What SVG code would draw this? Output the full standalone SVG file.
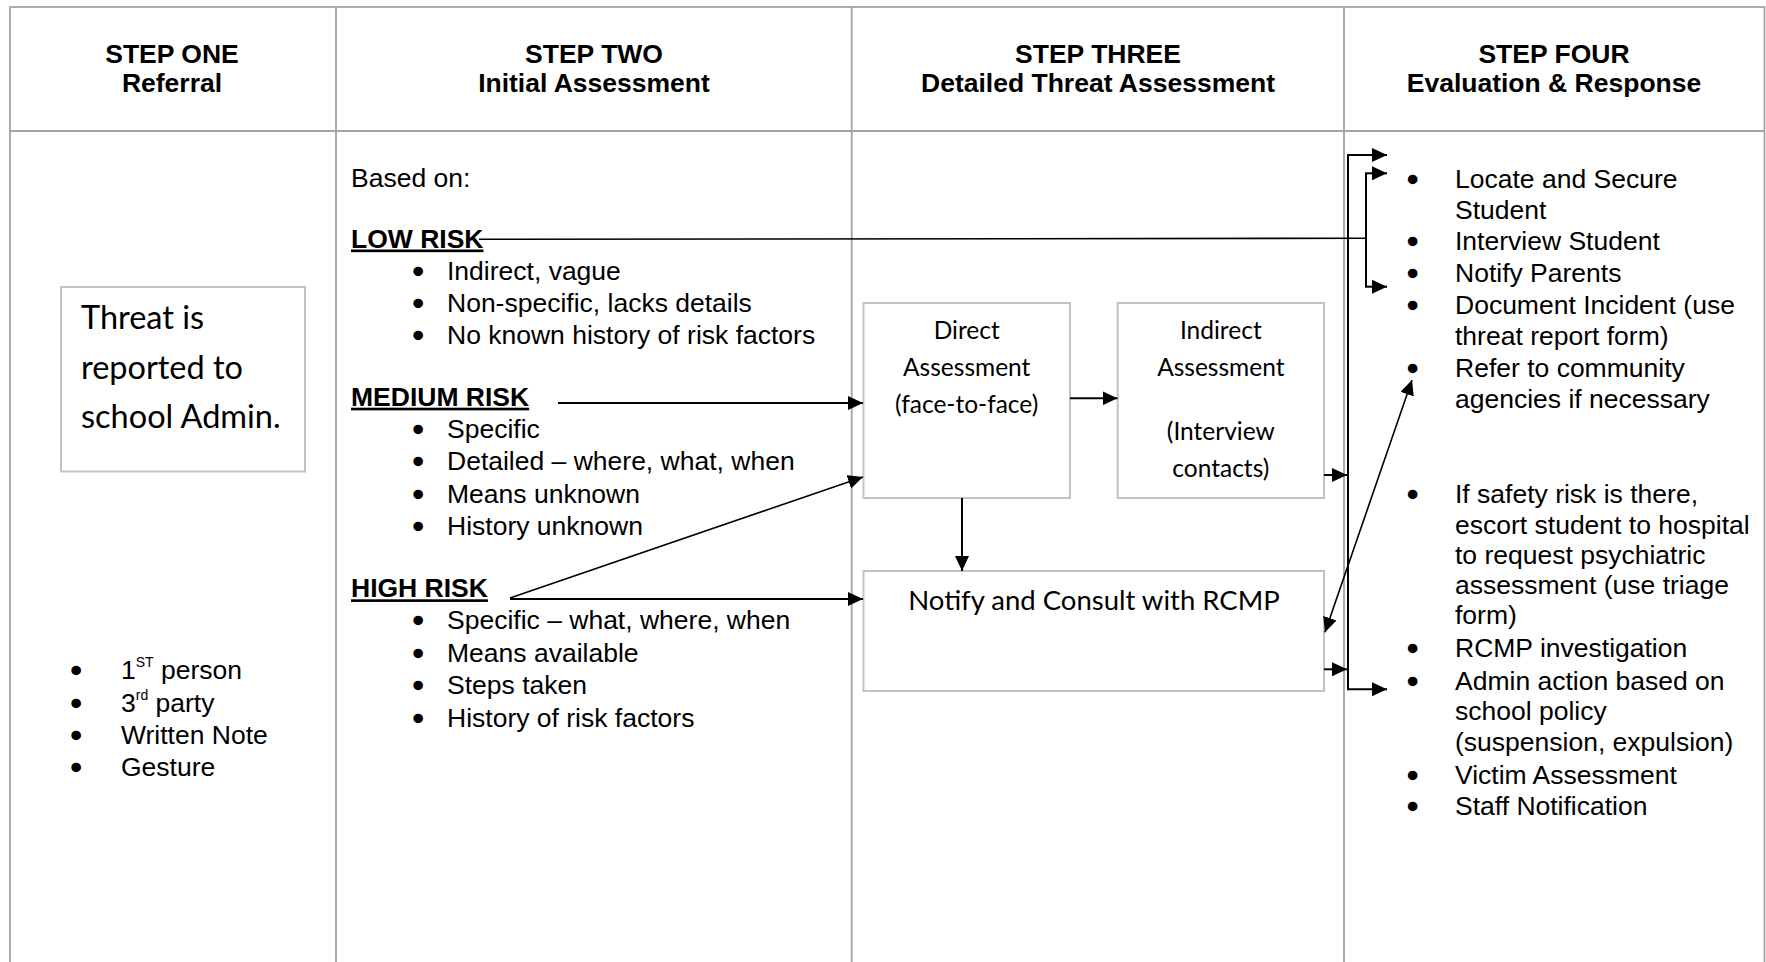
<svg xmlns="http://www.w3.org/2000/svg" width="1766" height="962" viewBox="0 0 1766 962">
<style>
  .grid { stroke: #a3a3a3; stroke-width: 1.8; fill: none; }
  .hdr { font-family: "Liberation Sans", Arial, sans-serif; font-weight: bold; font-size: 26.5px; fill: #000; text-anchor: middle; }
  .t { font-family: "Liberation Sans", Arial, sans-serif; font-size: 26.5px; fill: #000; }
  .b { stroke: #000; stroke-width: 2.4; stroke-linejoin: round; }
  .risk { font-family: "Liberation Sans", Arial, sans-serif; font-size: 26.5px; font-weight: bold; fill: #000; text-decoration: underline; }
  .box { fill: #fff; stroke: #c3c3c3; stroke-width: 2; }
  .bx { font-family: Lato, "Noto Sans", sans-serif; fill: #000; }
  .c { text-anchor: middle; }
  .conn { stroke: #000; stroke-width: 2; fill: none; }
  .thin { stroke: #000; stroke-width: 1.6; fill: none; }
</style>
<defs>
  <marker id="ah" markerUnits="userSpaceOnUse" markerWidth="16" markerHeight="14" refX="15" refY="7" orient="auto-start-reverse">
    <path d="M0,0 L15,7 L0,14 Z" fill="#000"/>
  </marker>
</defs>

<!-- table grid -->
<g id="table">
  <rect class="grid" x="10" y="7" width="1754.5" height="970"/>
  <line class="grid" x1="10" y1="131" x2="1764.5" y2="131"/>
  <line class="grid" x1="336" y1="7" x2="336" y2="962"/>
  <line class="grid" x1="851.7" y1="7" x2="851.7" y2="962"/>
  <line class="grid" x1="1344" y1="7" x2="1344" y2="962"/>
</g>

<!-- headers -->
<g id="header-step1">
  <text class="hdr" x="172" y="62.5">STEP ONE</text>
  <text class="hdr" x="172" y="91.5">Referral</text>
</g>
<g id="header-step2">
  <text class="hdr" x="594" y="62.5">STEP TWO</text>
  <text class="hdr" x="594" y="91.5">Initial Assessment</text>
</g>
<g id="header-step3">
  <text class="hdr" x="1098" y="62.5">STEP THREE</text>
  <text class="hdr" x="1098" y="91.5">Detailed Threat Assessment</text>
</g>
<g id="header-step4">
  <text class="hdr" x="1554" y="62.5">STEP FOUR</text>
  <text class="hdr" x="1554" y="91.5">Evaluation &amp; Response</text>
</g>

<!-- step one -->
<g id="threat-reported">
  <rect class="box" x="61" y="287" width="244" height="184.5"/>
  <text class="bx" x="81" y="329" font-size="32.5">Threat is</text>
  <text class="bx" x="81" y="378.5" font-size="32.5">reported to</text>
  <text class="bx" x="81" y="427.5" font-size="32.5">school Admin.</text>
</g>
<g id="referral-sources">
  <text class="t" y="679.3"><tspan class="b" x="71.4">•</tspan><tspan x="121">1</tspan><tspan font-size="14" dy="-12">ST</tspan><tspan dy="12"> person</tspan></text>
  <text class="t" y="711.5"><tspan class="b" x="71.4">•</tspan><tspan x="121">3</tspan><tspan font-size="14" dy="-12">rd</tspan><tspan dy="12"> party</tspan></text>
  <text class="t" y="743.5"><tspan class="b" x="71.4">•</tspan><tspan x="121">Written Note</tspan></text>
  <text class="t" y="775.5"><tspan class="b" x="71.4">•</tspan><tspan x="121">Gesture</tspan></text>
</g>

<!-- step two -->
<g id="based-on">
  <text class="t" x="351" y="187">Based on:</text>
</g>
<g id="low-risk">
  <text class="risk" x="351" y="247.5">LOW RISK</text>
  <text class="t" y="279.5"><tspan class="b" x="413.4">•</tspan><tspan x="447">Indirect, vague</tspan></text>
  <text class="t" y="312"><tspan class="b" x="413.4">•</tspan><tspan x="447">Non-specific, lacks details</tspan></text>
  <text class="t" y="344.3"><tspan class="b" x="413.4">•</tspan><tspan x="447">No known history of risk factors</tspan></text>
</g>
<g id="medium-risk">
  <text class="risk" x="351" y="405.7">MEDIUM RISK</text>
  <text class="t" y="437.7"><tspan class="b" x="413.4">•</tspan><tspan x="447">Specific</tspan></text>
  <text class="t" y="470"><tspan class="b" x="413.4">•</tspan><tspan x="447">Detailed – where, what, when</tspan></text>
  <text class="t" y="502.5"><tspan class="b" x="413.4">•</tspan><tspan x="447">Means unknown</tspan></text>
  <text class="t" y="535"><tspan class="b" x="413.4">•</tspan><tspan x="447">History unknown</tspan></text>
</g>
<g id="high-risk">
  <text class="risk" x="351" y="597.3">HIGH RISK</text>
  <text class="t" y="629.3"><tspan class="b" x="413.4">•</tspan><tspan x="447">Specific – what, where, when</tspan></text>
  <text class="t" y="661.7"><tspan class="b" x="413.4">•</tspan><tspan x="447">Means available</tspan></text>
  <text class="t" y="694"><tspan class="b" x="413.4">•</tspan><tspan x="447">Steps taken</tspan></text>
  <text class="t" y="726.5"><tspan class="b" x="413.4">•</tspan><tspan x="447">History of risk factors</tspan></text>
</g>

<!-- step three -->
<g id="direct-assessment">
  <rect class="box" x="863.5" y="303" width="206.5" height="195"/>
  <text class="bx c" x="966.7" y="339" font-size="24.5">Direct</text>
  <text class="bx c" x="966.7" y="376" font-size="24.5">Assessment</text>
  <text class="bx c" x="966.7" y="412.7" font-size="24.5">(face-to-face)</text>
</g>
<g id="indirect-assessment">
  <rect class="box" x="1117.7" y="303" width="206.3" height="195"/>
  <text class="bx c" x="1220.8" y="339" font-size="24.5">Indirect</text>
  <text class="bx c" x="1220.8" y="376" font-size="24.5">Assessment</text>
  <text class="bx c" x="1220.8" y="440" font-size="24.5">(Interview</text>
  <text class="bx c" x="1220.8" y="477.3" font-size="24.5">contacts)</text>
</g>
<g id="rcmp">
  <rect class="box" x="863.5" y="571" width="460.5" height="120"/>
  <text class="bx c" x="1094" y="609.5" font-size="27.5">Notify and Consult with RCMP</text>
</g>

<!-- step four -->
<g id="responses">
  <text class="t" y="187.5"><tspan class="b" x="1408.1">•</tspan><tspan x="1455">Locate and Secure</tspan></text>
  <text class="t" x="1455" y="218.5">Student</text>
  <text class="t" y="250"><tspan class="b" x="1408.1">•</tspan><tspan x="1455">Interview Student</tspan></text>
  <text class="t" y="282"><tspan class="b" x="1408.1">•</tspan><tspan x="1455">Notify Parents</tspan></text>
  <text class="t" y="314"><tspan class="b" x="1408.1">•</tspan><tspan x="1455">Document Incident (use</tspan></text>
  <text class="t" x="1455" y="344.5">threat report form)</text>
  <text class="t" y="377"><tspan class="b" x="1408.1">•</tspan><tspan x="1455">Refer to community</tspan></text>
  <text class="t" x="1455" y="407.5">agencies if necessary</text>
  <text class="t" y="503"><tspan class="b" x="1408.1">•</tspan><tspan x="1455">If safety risk is there,</tspan></text>
  <text class="t" x="1455" y="533.5">escort student to hospital</text>
  <text class="t" x="1455" y="563.5">to request psychiatric</text>
  <text class="t" x="1455" y="593.5">assessment (use triage</text>
  <text class="t" x="1455" y="623.5">form)</text>
  <text class="t" y="657"><tspan class="b" x="1408.1">•</tspan><tspan x="1455">RCMP investigation</tspan></text>
  <text class="t" y="690"><tspan class="b" x="1408.1">•</tspan><tspan x="1455">Admin action based on</tspan></text>
  <text class="t" x="1455" y="720">school policy</text>
  <text class="t" x="1455" y="750.5">(suspension, expulsion)</text>
  <text class="t" y="783.5"><tspan class="b" x="1408.1">•</tspan><tspan x="1455">Victim Assessment</tspan></text>
  <text class="t" y="815"><tspan class="b" x="1408.1">•</tspan><tspan x="1455">Staff Notification</tspan></text>
</g>

<!-- connectors -->
<g id="connectors">
  <line class="thin" x1="479" y1="239.3" x2="1366" y2="238.3"/>
  <path class="conn" d="M1366,173.3 V286.7"/>
  <path class="conn" d="M1365,173.3 H1387" marker-end="url(#ah)"/>
  <path class="conn" d="M1365,286.7 H1387" marker-end="url(#ah)"/>
  <path class="conn" d="M558,403 H863" marker-end="url(#ah)"/>
  <path class="conn" d="M510,599 H863" marker-end="url(#ah)"/>
  <path class="thin" d="M510,598 L863,477" marker-end="url(#ah)"/>
  <path class="conn" d="M1070,398.3 H1117.5" marker-end="url(#ah)"/>
  <path class="conn" d="M962,498 V571" marker-end="url(#ah)"/>
  <path class="conn" d="M1324,475 H1347" marker-end="url(#ah)"/>
  <path class="conn" d="M1324,669.3 H1347" marker-end="url(#ah)"/>
  <path class="conn" d="M1387,155 H1348 V689.3 H1387" marker-start="url(#ah)" marker-end="url(#ah)"/>
  <path class="thin" d="M1325,632.3 L1412,380" marker-start="url(#ah)" marker-end="url(#ah)"/>
</g>
</svg>
